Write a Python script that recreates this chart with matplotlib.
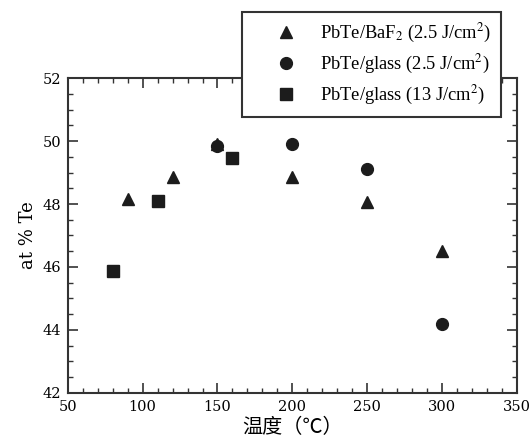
import matplotlib
matplotlib.use('Agg')
import matplotlib.pyplot as plt
from matplotlib.ticker import MultipleLocator

# data
baf2_T = [90, 120, 150, 200, 250, 300]
baf2_te = [48.15, 48.85, 49.9, 48.85, 48.05, 46.5]
glass_T = [150, 200, 250, 300]
glass_te = [49.85, 49.92, 49.1, 44.2]
glass13_T = [80, 110, 160]
glass13_te = [45.87, 48.1, 49.45]

labels = [r'PbTe/BaF$_2$ (2.5 J/cm$^2$)',
          r'PbTe/glass (2.5 J/cm$^2$)',
          r'PbTe/glass (13 J/cm$^2$)']

plt.rcParams['mathtext.fontset'] = 'stix'
dark = '#1c1c1c'

fig = plt.figure(figsize=(5.3, 4.46), dpi=100)
ax = fig.add_axes([0.128, 0.119, 0.847, 0.706])

ax.plot(baf2_T, baf2_te, '^', color=dark, markersize=9, label=labels[0], zorder=3)
ax.plot(glass_T, glass_te, 'o', color=dark, markersize=8.5, label=labels[1], zorder=4)
ax.plot(glass13_T, glass13_te, 's', color=dark, markersize=9, label=labels[2], zorder=3)

ax.set_xlim(50, 350)
ax.set_ylim(42, 52)
ax.xaxis.set_major_locator(MultipleLocator(50))
ax.xaxis.set_minor_locator(MultipleLocator(10))
ax.yaxis.set_major_locator(MultipleLocator(2))
ax.yaxis.set_minor_locator(MultipleLocator(0.5))
ax.tick_params(which='both', direction='in', top=True, right=True, color='#333333')
ax.tick_params(which='major', length=7, width=1.2, labelsize=10.5, pad=5)
ax.tick_params(which='minor', length=3.5, width=1.0)
for lab in ax.get_xticklabels() + ax.get_yticklabels():
    lab.set_family('DejaVu Serif')
for sp in ax.spines.values():
    sp.set_linewidth(1.5)
    sp.set_color('#333333')

ax.set_ylabel('at % Te', family='DejaVu Serif', fontsize=13, labelpad=4)
ax.set_xlabel('温度（℃）', family=['Noto Sans CJK SC', 'DejaVu Sans'], fontsize=14.5, labelpad=2)

leg = fig.legend(loc='upper left', bbox_to_anchor=(0.457, 0.973),
                 bbox_transform=fig.transFigure, borderaxespad=0,
                 prop={'family': 'Liberation Serif', 'size': 13.3},
                 handletextpad=0.05, borderpad=0.55, labelspacing=0.42,
                 handlelength=3.6, fancybox=False, framealpha=1)
leg.get_frame().set_edgecolor('#333333')
leg.get_frame().set_linewidth(1.5)

fig.savefig('out.png', dpi=100)
